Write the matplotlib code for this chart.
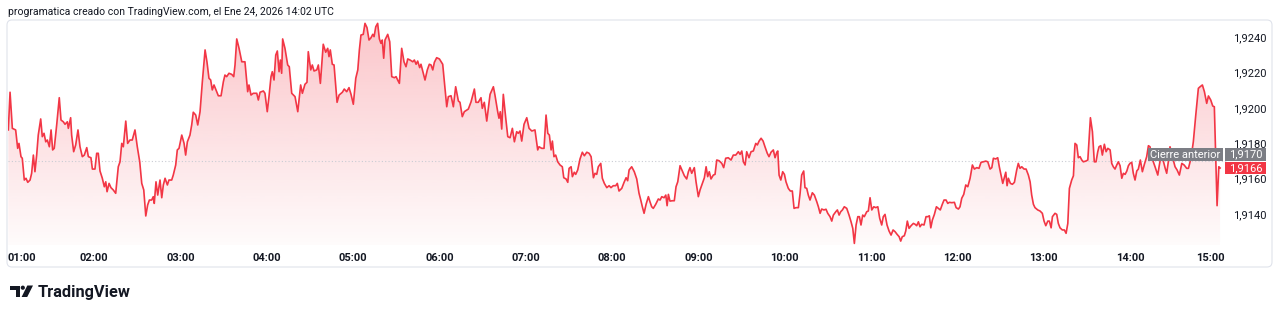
import numpy as np
import matplotlib.pyplot as plt
from matplotlib.patches import Rectangle, Polygon, Circle, FancyBboxPatch
from matplotlib.colors import to_rgb
from matplotlib.transforms import blended_transform_factory, ScaledTranslation, IdentityTransform

# minutes after 01:00 (local time) for each point of the line
minutes = [
    0.5, 1.7, 3.3, 5.6, 7.0, 7.9, 9.3, 10.2, 11.6, 12.8,
    14.0, 15.6, 16.7, 17.9, 19.0, 20.2, 21.3, 23.0, 24.1, 25.3,
    26.5, 27.6, 29.0, 30.2, 31.3, 32.4, 34.1, 35.9, 37.1, 38.7,
    39.9, 41.5, 42.2, 43.8, 44.5, 45.9, 47.3, 48.9, 50.3, 51.9,
    53.3, 55.0, 56.1, 57.9, 58.9, 60.7, 61.9, 63.0, 64.2, 65.8,
    67.2, 68.2, 69.1, 70.5, 71.8, 73.4, 75.1, 76.9, 78.1, 79.3,
    80.4, 82.1, 83.4, 85.0, 86.6, 88.5, 90.1, 91.8, 93.2, 94.6,
    96.0, 97.3, 98.5, 100.1, 101.2, 101.9, 103.1, 104.3, 105.9, 107.1,
    108.2, 109.4, 111.0, 112.1, 114.0, 115.1, 116.8, 117.9, 119.1, 121.0,
    122.6, 123.7, 124.9, 126.7, 127.9, 129.0, 130.7, 132.1, 133.7, 135.3,
    137.2, 138.5, 139.9, 141.1, 142.2, 143.4, 145.3, 146.4, 148.3, 149.9,
    151.0, 152.2, 153.8, 155.7, 157.1, 158.0, 159.2, 160.8, 162.7, 164.9,
    166.8, 167.7, 169.1, 170.7, 173.1, 174.2, 175.4, 177.7, 178.8, 180.4,
    181.6, 183.0, 183.9, 185.1, 186.3, 187.4, 188.6, 189.5, 190.4, 191.1,
    192.7, 194.6, 195.7, 197.4, 199.7, 201.6, 202.7, 203.6, 204.8, 206.6,
    208.0, 208.9, 210.6, 211.7, 212.9, 214.8, 215.9, 217.3, 219.3, 221.0,
    222.4, 223.3, 224.2, 225.6, 226.8, 228.9, 230.3, 232.6, 233.9, 235.6,
    237.2, 238.6, 240.2, 241.9, 243.3, 244.4, 245.5, 247.1, 248.3, 249.7,
    251.1, 252.5, 253.7, 254.6, 255.8, 257.1, 258.3, 259.4, 260.3, 261.3,
    262.2, 264.1, 265.5, 266.9, 268.7, 269.9, 271.0, 272.2, 273.8, 275.4,
    276.8, 278.0, 279.6, 281.5, 282.6, 283.8, 284.9, 286.3, 287.2, 288.8,
    290.0, 291.6, 293.0, 294.2, 295.4, 296.5, 298.1, 300.0, 302.3, 305.1,
    306.2, 308.1, 309.7, 311.3, 313.2, 314.3, 315.9, 317.3, 320.1, 322.0,
    324.3, 325.4, 327.0, 328.9, 329.8, 331.2, 332.9, 335.2, 337.5, 338.6,
    340.5, 341.4, 342.3, 343.3, 344.4, 346.1, 347.5, 349.1, 350.7, 352.1,
    353.7, 354.8, 356.0, 357.2, 358.8, 360.7, 362.3, 364.2, 366.4, 368.3,
    369.2, 371.1, 372.7, 374.1, 375.3, 376.4, 377.6, 378.5, 379.6, 380.8,
    382.2, 383.8, 385.4, 386.4, 388.0, 389.2, 390.1, 391.5, 392.4, 393.7,
    394.7, 396.1, 397.7, 399.3, 400.7, 402.4, 404.0, 405.4, 407.0, 408.1,
    409.3, 410.4, 412.1, 413.2, 414.6, 416.3, 417.9, 419.2, 420.8, 422.5,
    423.6, 424.8, 426.7, 428.3, 429.7, 430.8, 431.8, 433.6, 435.4, 437.1,
    438.7, 439.9, 441.0, 442.2, 443.6, 445.2, 446.3, 447.5, 448.6, 450.3,
    452.1, 453.3, 454.5, 456.1, 457.3, 458.2, 459.1, 460.2, 461.8, 463.2,
    464.4, 465.6, 467.2, 468.8, 470.2, 471.8, 473.0, 474.1, 475.3, 477.1,
    478.3, 479.9, 481.1, 482.7, 484.1, 485.3, 486.4, 487.5, 488.7, 490.3,
    491.5, 492.7, 494.3, 496.2, 497.5, 498.9, 500.7, 502.6, 504.2, 505.9,
    507.7, 508.9, 510.1, 511.2, 512.4, 513.5, 515.1, 516.5, 518.1, 519.8,
    520.9, 522.1, 523.5, 524.9, 526.2, 527.8, 529.0, 530.4, 532.0, 533.2,
    534.4, 535.1, 536.0, 537.2, 538.5, 539.7, 540.8, 542.4, 543.8, 545.2,
    546.4, 547.8, 549.4, 550.6, 551.7, 553.1, 554.0, 555.2, 556.3, 557.5,
    559.1, 560.5, 562.2, 563.3, 564.5, 565.6, 567.2, 568.6, 569.8, 571.4,
    572.6, 573.7, 575.4, 576.5, 577.7, 578.8, 580.0, 581.3, 583.0, 584.6,
    586.0, 587.2, 588.3, 589.5, 590.7, 591.8, 592.9, 594.1, 595.2, 596.9,
    598.0, 599.2, 600.4, 601.8, 603.2, 604.6, 605.9, 607.3, 608.4, 609.6,
    611.0, 612.4, 613.8, 615.2, 616.6, 618.0, 619.4, 620.5, 621.6, 623.0,
    624.0, 625.1, 626.3, 627.7, 629.3, 630.5, 631.6, 632.8, 633.9, 635.1,
    636.7, 638.1, 639.3, 640.4, 641.4, 642.5, 643.9, 645.3, 646.7, 648.0,
    649.4, 650.6, 652.0, 653.2, 654.3, 656.0, 657.8, 659.0, 660.6, 661.7,
    662.9, 664.3, 665.7, 667.1, 668.7, 670.3, 671.7, 673.3, 674.9, 676.3,
    677.9, 679.6, 681.0, 682.6, 683.8, 684.9, 686.5, 687.9, 689.0, 690.2,
    691.4, 692.5, 693.5, 694.4, 695.3, 696.7, 698.1, 699.5, 701.1, 702.2,
    703.4, 704.6, 706.2, 707.6, 709.2, 710.4, 711.5, 712.7, 713.8, 715.7,
    717.3, 718.9, 720.1, 721.3, 722.7, 723.8, 725.0, 725.9, 727.7, 728.9,
    730.0, 731.2, 732.8, 734.2, 735.4, 736.6, 737.7, 739.3, 740.5, 741.6,
    742.8, 743.9, 745.1, 746.3, 747.4, 749.1, 750.5, 751.4, 752.3, 753.7,
    755.0, 756.2, 757.4, 758.3, 759.5, 760.6, 762.0, 763.2, 764.4, 766.0,
    767.1, 768.2, 769.4, 770.6, 771.7, 772.9, 774.1, 775.2, 776.4, 777.6,
    778.7, 779.8, 781.0, 782.1, 783.3, 784.5, 785.6, 787.0, 788.4, 789.8,
    791.4, 792.6, 793.7, 794.9, 796.0, 797.2, 799.1, 800.0, 801.4, 802.8,
    804.2, 805.3, 806.6, 807.6, 809.0, 811.1, 812.5, 814.1, 815.8, 817.4,
    819.2, 820.4, 822.2, 823.8, 825.5, 827.3, 828.5, 830.1, 831.5, 833.1,
    834.3, 835.9, 837.3, 838.4, 840.3, 841.5, 842.4,
]

prices = [
    1.91875, 1.92088, 1.91884, 1.91875, 1.91771, 1.91799, 1.91724, 1.91715, 1.91592, 1.91602,
    1.91579, 1.91592, 1.91630, 1.91733, 1.91639, 1.91733, 1.91846, 1.91937, 1.91837, 1.91856,
    1.91808, 1.91818, 1.91780, 1.91875, 1.91762, 1.91771, 1.91903, 1.92057, 1.91931, 1.91921,
    1.91907, 1.91921, 1.91884, 1.91944, 1.91846, 1.91752, 1.91790, 1.91875, 1.91780, 1.91724,
    1.91733, 1.91775, 1.91724, 1.91718, 1.91654, 1.91654, 1.91743, 1.91743, 1.91643, 1.91602,
    1.91554, 1.91582, 1.91526, 1.91573, 1.91549, 1.91536, 1.91517, 1.91667, 1.91695, 1.91799,
    1.91780, 1.91925, 1.91799, 1.91818, 1.91818, 1.91875, 1.91780, 1.91695, 1.91573, 1.91536,
    1.91389, 1.91451, 1.91479, 1.91479, 1.91498, 1.91460, 1.91582, 1.91507, 1.91592, 1.91492,
    1.91564, 1.91602, 1.91564, 1.91592, 1.91592, 1.91620, 1.91677, 1.91762, 1.91771, 1.91846,
    1.91799, 1.91733, 1.91808, 1.91846, 1.91903, 1.91975, 1.91959, 1.91903, 1.91978, 1.92147,
    1.92327, 1.92260, 1.92167, 1.92157, 1.92101, 1.92129, 1.92091, 1.92068, 1.92068, 1.92147,
    1.92185, 1.92176, 1.92195, 1.92189, 1.92176, 1.92242, 1.92389, 1.92336, 1.92260, 1.92260,
    1.92091, 1.92129, 1.92072, 1.92082, 1.92082, 1.92044, 1.92088, 1.92095, 1.92082, 1.91978,
    1.92063, 1.92176, 1.92204, 1.92157, 1.92298, 1.92321, 1.92204, 1.92270, 1.92195, 1.92389,
    1.92336, 1.92242, 1.92232, 1.92082, 1.92063, 1.91978, 1.92063, 1.92129, 1.92082, 1.92133,
    1.92144, 1.92317, 1.92214, 1.92242, 1.92208, 1.92214, 1.92242, 1.92138, 1.92359, 1.92314,
    1.92336, 1.92289, 1.92327, 1.92246, 1.92242, 1.92031, 1.92072, 1.92088, 1.92106, 1.92091,
    1.92114, 1.92076, 1.92020, 1.92167, 1.92214, 1.92327, 1.92411, 1.92415, 1.92477, 1.92453,
    1.92383, 1.92396, 1.92415, 1.92402, 1.92458, 1.92477, 1.92389, 1.92364, 1.92383, 1.92280,
    1.92383, 1.92415, 1.92373, 1.92176, 1.92170, 1.92176, 1.92157, 1.92138, 1.92336, 1.92260,
    1.92232, 1.92276, 1.92270, 1.92260, 1.92270, 1.92246, 1.92264, 1.92227, 1.92246, 1.92195,
    1.92157, 1.92214, 1.92246, 1.92242, 1.92214, 1.92257, 1.92283, 1.92276, 1.92246, 1.92006,
    1.92063, 1.92068, 1.92006, 1.92119, 1.92038, 1.92031, 1.91950, 1.91978, 1.91993, 1.92034,
    1.92106, 1.92031, 1.92031, 1.92057, 1.91997, 1.92031, 1.91925, 1.92076, 1.92119, 1.92072,
    1.91978, 1.91941, 1.91978, 1.91880, 1.92076, 1.91941, 1.91837, 1.91831, 1.91884, 1.91808,
    1.91865, 1.91856, 1.91869, 1.91812, 1.91907, 1.91944, 1.91884, 1.91869, 1.91875, 1.91762,
    1.91780, 1.91771, 1.91771, 1.91959, 1.91856, 1.91846, 1.91762, 1.91812, 1.91724, 1.91733,
    1.91695, 1.91677, 1.91667, 1.91605, 1.91598, 1.91579, 1.91658, 1.91667, 1.91611, 1.91636,
    1.91624, 1.91649, 1.91711, 1.91749, 1.91729, 1.91749, 1.91743, 1.91724, 1.91605, 1.91630,
    1.91624, 1.91667, 1.91686, 1.91602, 1.91573, 1.91549, 1.91560, 1.91549, 1.91560, 1.91560,
    1.91573, 1.91530, 1.91545, 1.91579, 1.91605, 1.91588, 1.91649, 1.91667, 1.91639, 1.91598,
    1.91517, 1.91479, 1.91441, 1.91404, 1.91455, 1.91498, 1.91469, 1.91441, 1.91432, 1.91455,
    1.91485, 1.91479, 1.91498, 1.91492, 1.91507, 1.91447, 1.91511, 1.91473, 1.91475, 1.91475,
    1.91554, 1.91582, 1.91673, 1.91643, 1.91616, 1.91598, 1.91639, 1.91662, 1.91630, 1.91662,
    1.91582, 1.91498, 1.91536, 1.91573, 1.91605, 1.91667, 1.91611, 1.91639, 1.91598, 1.91620,
    1.91624, 1.91705, 1.91701, 1.91686, 1.91662, 1.91715, 1.91718, 1.91705, 1.91733, 1.91733,
    1.91752, 1.91737, 1.91756, 1.91695, 1.91677, 1.91752, 1.91718, 1.91752, 1.91756, 1.91799,
    1.91790, 1.91812, 1.91828, 1.91812, 1.91780, 1.91743, 1.91724, 1.91749, 1.91762, 1.91718,
    1.91749, 1.91756, 1.91620, 1.91592, 1.91639, 1.91624, 1.91582, 1.91545, 1.91530, 1.91530,
    1.91432, 1.91436, 1.91436, 1.91517, 1.91620, 1.91643, 1.91549, 1.91545, 1.91507, 1.91479,
    1.91520, 1.91507, 1.91469, 1.91441, 1.91404, 1.91428, 1.91423, 1.91427, 1.91404, 1.91385,
    1.91360, 1.91394, 1.91413, 1.91423, 1.91394, 1.91413, 1.91423, 1.91441, 1.91432, 1.91394,
    1.91356, 1.91319, 1.91234, 1.91338, 1.91385, 1.91385, 1.91338, 1.91394, 1.91385, 1.91413,
    1.91417, 1.91492, 1.91423, 1.91441, 1.91436, 1.91441, 1.91376, 1.91338, 1.91385, 1.91398,
    1.91338, 1.91304, 1.91281, 1.91310, 1.91300, 1.91285, 1.91272, 1.91247, 1.91272, 1.91277,
    1.91304, 1.91360, 1.91319, 1.91334, 1.91347, 1.91342, 1.91334, 1.91356, 1.91328, 1.91342,
    1.91338, 1.91385, 1.91385, 1.91390, 1.91322, 1.91366, 1.91398, 1.91441, 1.91432, 1.91423,
    1.91455, 1.91479, 1.91479, 1.91460, 1.91466, 1.91464, 1.91466, 1.91436, 1.91428, 1.91441,
    1.91489, 1.91511, 1.91564, 1.91554, 1.91602, 1.91677, 1.91654, 1.91662, 1.91658, 1.91692,
    1.91695, 1.91699, 1.91695, 1.91654, 1.91662, 1.91715, 1.91711, 1.91718, 1.91667, 1.91620,
    1.91573, 1.91605, 1.91636, 1.91560, 1.91602, 1.91573, 1.91568, 1.91579, 1.91649, 1.91686,
    1.91658, 1.91667, 1.91654, 1.91654, 1.91620, 1.91582, 1.91507, 1.91455, 1.91436, 1.91423,
    1.91417, 1.91404, 1.91360, 1.91334, 1.91360, 1.91360, 1.91322, 1.91385, 1.91404, 1.91398,
    1.91347, 1.91322, 1.91310, 1.91310, 1.91291, 1.91347, 1.91545, 1.91592, 1.91616, 1.91799,
    1.91790, 1.91718, 1.91724, 1.91705, 1.91695, 1.91699, 1.91705, 1.91828, 1.91944, 1.91865,
    1.91695, 1.91695, 1.91752, 1.91780, 1.91786, 1.91733, 1.91794, 1.91752, 1.91771, 1.91762,
    1.91686, 1.91667, 1.91654, 1.91677, 1.91695, 1.91673, 1.91602, 1.91630, 1.91624, 1.91643,
    1.91673, 1.91686, 1.91692, 1.91630, 1.91592, 1.91643, 1.91654, 1.91705, 1.91639, 1.91681,
    1.91724, 1.91786, 1.91780, 1.91724, 1.91695, 1.91667, 1.91620, 1.91667, 1.91733, 1.91705,
    1.91660, 1.91630, 1.91705, 1.91780, 1.91733, 1.91667, 1.91649, 1.91620, 1.91686, 1.91677,
    1.91658, 1.91658, 1.91716, 1.91808, 1.91959, 1.92110, 1.92119, 1.92129, 1.92091, 1.92025,
    1.92067, 1.92044, 1.92010, 1.92006, 1.91447, 1.91667, 1.91660,
]

hour_labels = ['01:00', '02:00', '03:00', '04:00', '05:00', '06:00', '07:00', '08:00',
               '09:00', '10:00', '11:00', '12:00', '13:00', '14:00', '15:00']
hour_minutes = [60 * i for i in range(len(hour_labels))]
price_ticks = [1.9140, 1.9160, 1.9180, 1.9200, 1.9220, 1.9240]
price_tick_labels = ['1,9140', '1,9160', '1,9180', '1,9200', '1,9220', '1,9240']
prev_close = 1.9170
last_price = 1.9166

title = 'programatica creado con TradingView.com, el Ene 24, 2026 14:02 UTC'

RED = '#F23645'
TEXT = '#131722'
GREY = '#7c7e85'

W, H = 1280, 315
plt.rcParams['font.family'] = ['Roboto', 'DejaVu Sans']
fig = plt.figure(figsize=(W / 100, H / 100), dpi=100)
PIX = IdentityTransform()  # output pixels, origin bottom-left


def fig_rect(x, y, w, h):
    # pixel box with top-left origin -> figure fraction rect
    return [x / W, 1 - (y + h) / H, w / W, h / H]


px_per_min = 86.36 / 60
ax = fig.add_axes(fig_rect(7.6, 20, 1220.4, 225))
x0, x1 = 0, 1220.4 / px_per_min
y0, y1 = 1.91225, 1.92496

# gradient area under the line
area = ax.fill_between(minutes, prices, y0, color='none', lw=0)
r, g, b = to_rgb(RED)
grad = np.zeros((256, 1, 4))
grad[..., 0], grad[..., 1], grad[..., 2] = r, g, b
grad[:, 0, 3] = np.linspace(0.29, 0.02, 256)
im = ax.imshow(grad, extent=[x0, x1, y0, y1], aspect='auto', origin='upper',
               interpolation='bilinear', zorder=1)
im.set_clip_path(area.get_paths()[0], transform=ax.transData)

ax.axhline(prev_close, color='#c9ccd3', lw=0.8, ls=(0, (1, 2)), zorder=2)
ax.plot(minutes, prices, color=RED, lw=1.2, zorder=3, solid_joinstyle='round')

ax.set_xlim(x0, x1)
ax.set_ylim(y0, y1)
ax.patch.set_visible(False)
for s in ax.spines.values():
    s.set_visible(False)
ax.set_xticks([])
ax.yaxis.tick_right()
ax.set_yticks(price_ticks)
ax.set_yticklabels(price_tick_labels)
ax.tick_params(axis='y', length=0, pad=3.8, labelsize=8, labelcolor=TEXT)

# time labels (first and last nudged inside like TradingView does)
trans = blended_transform_factory(ax.transData, ax.transAxes)
for i, (m, lab) in enumerate(zip(hour_minutes, hour_labels)):
    shift = 0
    if i == 0:
        shift = 14.4
    elif i == len(hour_labels) - 1:
        shift = -6
    ax.text(m, -0.058, lab, transform=trans + ScaledTranslation(shift / 100, 0, fig.dpi_scale_trans),
            ha='center', va='center', fontsize=8, fontweight=600, color=TEXT)

# panel frame
fig.add_artist(FancyBboxPatch((7, H - 267), 1265, 247, boxstyle='round,pad=0,rounding_size=5',
                              transform=PIX, ec='#e0e3eb', fc='none', lw=0.8))

fig.text(8 / W, 1 - 12 / H, title, fontsize=7.5, color=TEXT, ha='left', va='center')

# price labels on the scale
yl = ax.transData.transform((0, last_price))[1]
bh = 12.4
fig.add_artist(Rectangle((1225, yl - bh / 2), 41, bh, transform=PIX, fc=RED, ec='none'))
fig.text(1245.5 / W, yl / H, f'{last_price:.4f}'.replace('.', ','), color='white',
         fontsize=8, ha='center', va='center')
yg = yl + bh + 1
fig.add_artist(Rectangle((1225, yg - bh / 2), 41, bh, transform=PIX, fc=GREY, ec='none'))
fig.text(1245.5 / W, yg / H, f'{prev_close:.4f}'.replace('.', ','), color='white',
         fontsize=8, ha='center', va='center')
fig.add_artist(Rectangle((1148, yg - bh / 2), 75, bh, transform=PIX, fc=GREY, ec='none'))
fig.text(1185.5 / W, yg / H, 'Cierre anterior', color='white',
         fontsize=8, ha='center', va='center')

# TradingView logo
fig.add_artist(Polygon([(9.5, H - 285.5), (19.5, H - 285.5), (19.5, H - 297), (15.5, H - 297),
                        (15.5, H - 289.5), (9.5, H - 289.5)], closed=True, transform=PIX,
                       fc=TEXT, ec='none'))
fig.add_artist(Circle((22.8, H - 287.7), 2.1, transform=PIX, fc=TEXT, ec='none'))
fig.add_artist(Polygon([(27.3, H - 285.5), (33, H - 285.5), (27.2, H - 297), (21.6, H - 297)],
                       closed=True, transform=PIX, fc=TEXT, ec='none'))
fig.text(38 / W, 1 - 296.7 / H, 'TradingView', fontsize=11.8, fontweight='bold',
         color=TEXT, ha='left', va='baseline')

fig.savefig('out.png', dpi=100, facecolor='white')
